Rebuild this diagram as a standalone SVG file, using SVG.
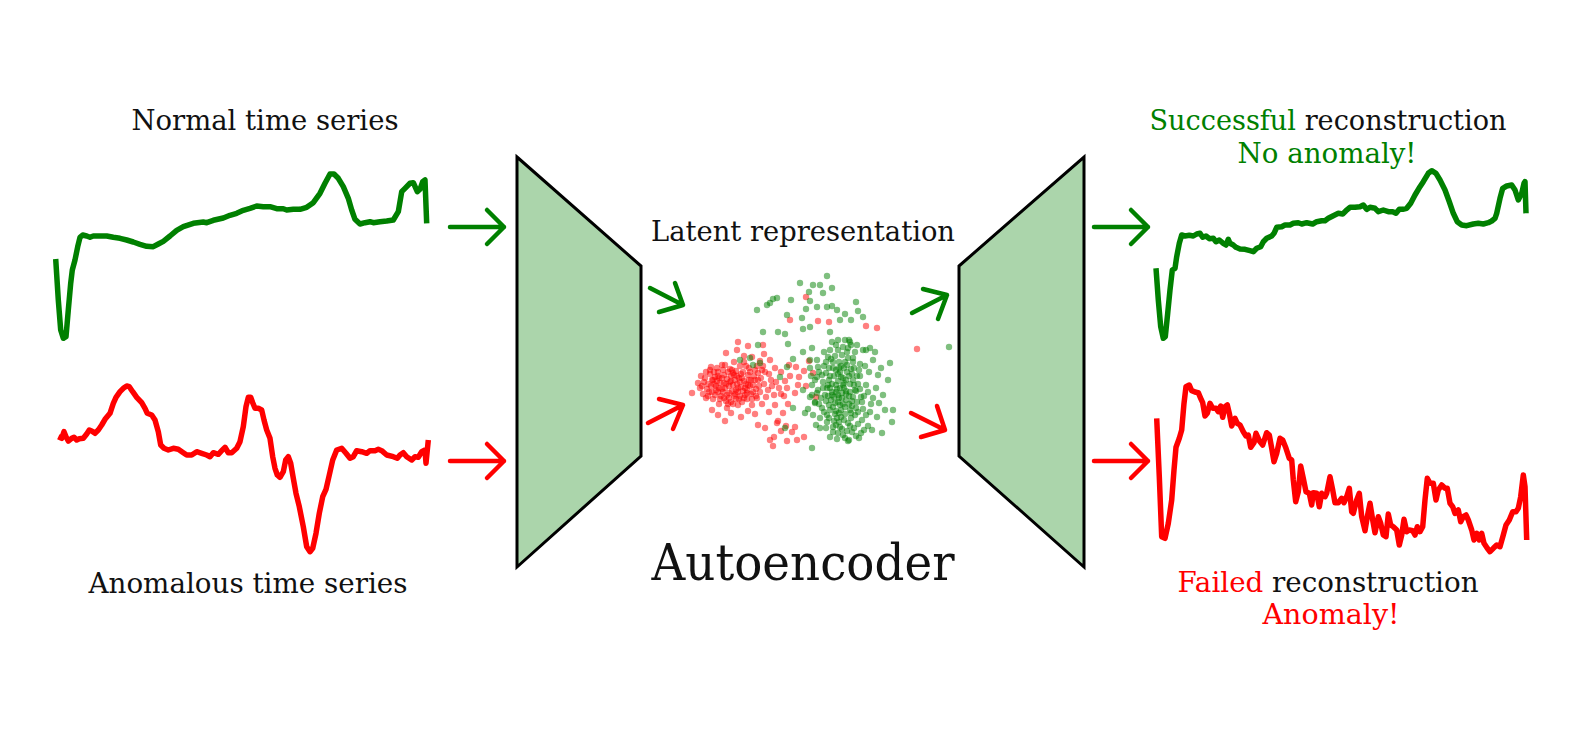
<svg xmlns="http://www.w3.org/2000/svg" width="1587" height="756" viewBox="0 0 1587 756">
<style>
.t{font-family:"DejaVu Serif","Liberation Serif",serif;fill:#111;}
.g{fill:#008000;}
.r{fill:#ff0000;}
.ts{fill:none;stroke-width:5.5;stroke-linejoin:round;stroke-linecap:butt;}
.tg{stroke:#008000;}
.tr{stroke:#ff0000;}
.trap{fill:#abd5ab;stroke:#000;stroke-width:3;stroke-linejoin:miter;}
.ar{fill:none;stroke-width:4.5;stroke-linecap:round;stroke-linejoin:round;}
.ag{stroke:#008000;}
.arr{stroke:#ff0000;}
.pr circle{fill:#ff0000;fill-opacity:0.5;}
.pg circle{fill:#008000;fill-opacity:0.5;}
circle{r:3.2px;}
</style>
<rect width="1587" height="756" fill="#fff"/>

<g id="normal-input">
<text class="t" x="265" y="130" font-size="28" text-anchor="middle" textLength="267" lengthAdjust="spacingAndGlyphs">Normal time series</text>
<polyline class="ts tg" points="55.7,259 58.3,300 60.7,330 63.3,338.3 66,336.7 68.3,310 70.7,283.3 72.3,270 75,260 77.7,246.7 80,237.3 82.7,235 86.7,236 90,237.3 93.3,236 100,236 106.7,236 113.3,237.3 120,238.3 126.7,240 133.3,242 140,244.3 146.7,246.3 153.3,246.7 158.3,244 163.3,241.3 170,236 176.7,230.3 183.3,226.7 193.3,223.3 203.3,222 206.7,222.7 213.3,220.3 223.3,218 230,215.3 236.7,213.3 243.3,210.3 250,208.3 256.7,206 263.3,206.7 270,206.7 276.7,208.7 283.3,208.7 286.7,210 293.3,209.3 300,209.3 306.7,207.3 313.3,202.7 320,193.3 325,183.3 330,174 334,174 338.3,178.3 343.3,186.7 348.3,198.3 351.7,210 355,219.3 360,224 365,222.7 370,221.7 373.3,222.7 380,221.7 386.7,221 393.3,220 398.3,211.7 401.7,191.7 405,188.3 410,183.3 413.3,182.7 417.3,191.7 420,189.3 422.7,181.7 425,180 426.7,223.3"/>
</g>

<g id="anomalous-input">
<text class="t" x="248" y="593" font-size="28" text-anchor="middle" textLength="319" lengthAdjust="spacingAndGlyphs">Anomalous time series</text>
<polyline class="ts tr" points="58.3,436.7 61.7,438.3 64,431.7 66,436.7 68.3,441 71.7,438.3 74,437.3 76.7,440 79.3,438.7 83.3,438.3 86.7,434 89.3,430 91.7,431 95,433.3 98.3,430 101.7,425 105,419.3 110,413.3 113.3,403.3 116,397.3 120,391.7 123.3,388.3 126.7,386 129.3,386.7 132.7,391.7 136.7,397.3 141.7,402.7 145,408.3 147.3,413.3 151.7,415 155,420 158.3,431.7 160.7,445 164,448.3 168.3,450 173.3,448.3 178.3,449.3 183.3,452.7 186.7,455 191.7,455 196.7,451.7 201.7,453.3 206.7,455 210,456.7 213.3,452.7 218.3,454.3 221.7,450.7 225,447.3 228.3,452.7 231.7,452.7 236.7,448.3 240,441.7 243.3,426.7 246,406.7 248.3,397.3 250.7,397.3 252.7,402.7 255,408.3 258.3,408.3 261.7,410 264,420 266.7,430 270,438.3 272.7,456.7 275,468.3 277.3,475 280,477.3 283.3,471.7 285.7,460 288.3,456.7 290.7,463.3 293.3,478.3 296,493.3 299.3,506.7 303.3,526.7 306.7,546.7 310,551.7 312.7,548.3 316,533.3 319.3,513.3 322.7,496.7 326,489.3 329.3,475 332.7,460 336.7,450 341.7,448.3 346,453.3 350,458.3 353.3,456.7 356.7,450.7 361.7,451.7 366.7,453.3 370,450.7 375,450.7 378.3,449.3 381.7,450.7 386.7,455 393.3,456.7 397.3,458.3 400,455 403.3,452.7 406.7,456.7 411.7,460 415,456.7 418.3,457.3 421.7,451.7 425,450 426,463.3 428.3,440"/>
</g>

<g id="encoder">
<polygon class="trap" points="517,157 641,266 641,456 517,567"/>
</g>

<g id="decoder">
<polygon class="trap" points="959,266 1084,157 1084,567 959,456"/>
</g>

<g id="latent">
<text class="t" x="803" y="241" font-size="28" text-anchor="middle" textLength="304" lengthAdjust="spacingAndGlyphs">Latent representation</text>
<g class="pr">
<circle cx="712" cy="380" r="3.2"/><circle cx="718" cy="372" r="3.2"/><circle cx="725" cy="388" r="3.2"/><circle cx="731" cy="376" r="3.2"/><circle cx="738" cy="392" r="3.2"/><circle cx="744" cy="381" r="3.2"/><circle cx="707" cy="389" r="3.2"/><circle cx="715" cy="395" r="3.2"/><circle cx="722" cy="365" r="3.2"/><circle cx="729" cy="398" r="3.2"/><circle cx="736" cy="371" r="3.2"/><circle cx="741" cy="387" r="3.2"/><circle cx="748" cy="375" r="3.2"/><circle cx="753" cy="392" r="3.2"/><circle cx="720" cy="383" r="3.2"/><circle cx="727" cy="379" r="3.2"/><circle cx="733" cy="385" r="3.2"/><circle cx="739" cy="378" r="3.2"/><circle cx="745" cy="395" r="3.2"/><circle cx="710" cy="374" r="3.2"/><circle cx="716" cy="386" r="3.2"/><circle cx="723" cy="392" r="3.2"/><circle cx="730" cy="369" r="3.2"/><circle cx="737" cy="384" r="3.2"/><circle cx="743" cy="372" r="3.2"/><circle cx="750" cy="386" r="3.2"/><circle cx="704" cy="382" r="3.2"/><circle cx="713" cy="399" r="3.2"/><circle cx="719" cy="378" r="3.2"/><circle cx="726" cy="401" r="3.2"/><circle cx="732" cy="391" r="3.2"/><circle cx="740" cy="366" r="3.2"/><circle cx="747" cy="399" r="3.2"/><circle cx="755" cy="380" r="3.2"/><circle cx="758" cy="373" r="3.2"/><circle cx="701" cy="376" r="3.2"/><circle cx="709" cy="392" r="3.2"/><circle cx="717" cy="368" r="3.2"/><circle cx="724" cy="375" r="3.2"/><circle cx="735" cy="394" r="3.2"/><circle cx="742" cy="402" r="3.2"/><circle cx="749" cy="368" r="3.2"/><circle cx="756" cy="389" r="3.2"/><circle cx="761" cy="378" r="3.2"/><circle cx="706" cy="398" r="3.2"/><circle cx="714" cy="384" r="3.2"/><circle cx="721" cy="396" r="3.2"/><circle cx="728" cy="372" r="3.2"/><circle cx="734" cy="362" r="3.2"/><circle cx="746" cy="384" r="3.2"/><circle cx="752" cy="399" r="3.2"/><circle cx="760" cy="392" r="3.2"/><circle cx="764" cy="384" r="3.2"/><circle cx="700" cy="388" r="3.2"/><circle cx="711" cy="367" r="3.2"/><circle cx="738" cy="405" r="3.2"/><circle cx="744" cy="362" r="3.2"/><circle cx="727" cy="408" r="3.2"/><circle cx="719" cy="404" r="3.2"/><circle cx="733" cy="404" r="3.2"/><circle cx="765" cy="372" r="3.2"/><circle cx="768" cy="390" r="3.2"/><circle cx="771" cy="380" r="3.2"/><circle cx="774" cy="395" r="3.2"/><circle cx="757" cy="366" r="3.2"/><circle cx="762" cy="404" r="3.2"/><circle cx="703" cy="394" r="3.2"/><circle cx="698" cy="383" r="3.2"/><circle cx="736" cy="399" r="3.2"/><circle cx="729" cy="386" r="3.2"/>
<circle cx="715" cy="377" r="3.2"/><circle cx="722" cy="389" r="3.2"/><circle cx="731" cy="381" r="3.2"/><circle cx="740" cy="396" r="3.2"/><circle cx="747" cy="390" r="3.2"/><circle cx="708" cy="384" r="3.2"/><circle cx="724" cy="383" r="3.2"/><circle cx="734" cy="375" r="3.2"/><circle cx="751" cy="380" r="3.2"/><circle cx="718" cy="392" r="3.2"/>
<circle cx="705" cy="378" r="3.2"/><circle cx="711" cy="386" r="3.2"/><circle cx="717" cy="381" r="3.2"/><circle cx="723" cy="370" r="3.2"/><circle cx="729" cy="393" r="3.2"/><circle cx="735" cy="380" r="3.2"/><circle cx="741" cy="374" r="3.2"/><circle cx="747" cy="393" r="3.2"/><circle cx="753" cy="385" r="3.2"/><circle cx="759" cy="386" r="3.2"/><circle cx="714" cy="372" r="3.2"/><circle cx="720" cy="399" r="3.2"/><circle cx="726" cy="384" r="3.2"/><circle cx="732" cy="370" r="3.2"/><circle cx="738" cy="388" r="3.2"/><circle cx="744" cy="398" r="3.2"/><circle cx="750" cy="372" r="3.2"/><circle cx="756" cy="396" r="3.2"/><circle cx="762" cy="370" r="3.2"/><circle cx="708" cy="396" r="3.2"/><circle cx="716" cy="390" r="3.2"/><circle cx="722" cy="378" r="3.2"/><circle cx="728" cy="404" r="3.2"/><circle cx="734" cy="396" r="3.2"/><circle cx="740" cy="382" r="3.2"/><circle cx="746" cy="366" r="3.2"/><circle cx="752" cy="405" r="3.2"/><circle cx="758" cy="380" r="3.2"/><circle cx="713" cy="380" r="3.2"/><circle cx="719" cy="388" r="3.2"/><circle cx="725" cy="365" r="3.2"/><circle cx="731" cy="402" r="3.2"/><circle cx="737" cy="376" r="3.2"/><circle cx="743" cy="391" r="3.2"/><circle cx="749" cy="380" r="3.2"/><circle cx="755" cy="370" r="3.2"/><circle cx="702" cy="386" r="3.2"/><circle cx="710" cy="370" r="3.2"/><circle cx="718" cy="376" r="3.2"/><circle cx="724" cy="398" r="3.2"/><circle cx="730" cy="382" r="3.2"/><circle cx="736" cy="390" r="3.2"/><circle cx="742" cy="378" r="3.2"/><circle cx="748" cy="385" r="3.2"/><circle cx="754" cy="376" r="3.2"/><circle cx="766" cy="397" r="3.2"/><circle cx="772" cy="386" r="3.2"/><circle cx="706" cy="372" r="3.2"/><circle cx="712" cy="392" r="3.2"/><circle cx="727" cy="395" r="3.2"/><circle cx="733" cy="373" r="3.2"/><circle cx="739" cy="399" r="3.2"/><circle cx="745" cy="388" r="3.2"/><circle cx="751" cy="394" r="3.2"/><circle cx="757" cy="398" r="3.2"/><circle cx="763" cy="366" r="3.2"/><circle cx="769" cy="374" r="3.2"/><circle cx="776" cy="382" r="3.2"/><circle cx="781" cy="394" r="3.2"/><circle cx="787" cy="388" r="3.2"/>
<circle cx="692" cy="393" r="3.2"/><circle cx="752" cy="357" r="3.2"/><circle cx="760" cy="361" r="3.2"/><circle cx="770" cy="360" r="3.2"/><circle cx="775" cy="368" r="3.2"/><circle cx="781" cy="372" r="3.2"/><circle cx="785" cy="381" r="3.2"/><circle cx="790" cy="376" r="3.2"/><circle cx="779" cy="388" r="3.2"/><circle cx="784" cy="396" r="3.2"/><circle cx="788" cy="404" r="3.2"/><circle cx="795" cy="393" r="3.2"/><circle cx="798" cy="385" r="3.2"/><circle cx="775" cy="405" r="3.2"/><circle cx="769" cy="412" r="3.2"/><circle cx="783" cy="413" r="3.2"/><circle cx="755" cy="414" r="3.2"/><circle cx="748" cy="411" r="3.2"/><circle cx="741" cy="417" r="3.2"/><circle cx="731" cy="413" r="3.2"/><circle cx="718" cy="415" r="3.2"/><circle cx="712" cy="410" r="3.2"/><circle cx="725" cy="421" r="3.2"/><circle cx="758" cy="425" r="3.2"/><circle cx="765" cy="428" r="3.2"/><circle cx="770" cy="440" r="3.2"/><circle cx="774" cy="437" r="3.2"/><circle cx="786" cy="426" r="3.2"/><circle cx="792" cy="432" r="3.2"/><circle cx="778" cy="421" r="3.2"/><circle cx="799" cy="377" r="3.2"/><circle cx="804" cy="371" r="3.2"/><circle cx="809" cy="361" r="3.2"/><circle cx="806" cy="386" r="3.2"/><circle cx="796" cy="367" r="3.2"/><circle cx="789" cy="365" r="3.2"/><circle cx="764" cy="354" r="3.2"/><circle cx="744" cy="356" r="3.2"/><circle cx="737" cy="350" r="3.2"/><circle cx="726" cy="353" r="3.2"/><circle cx="763" cy="345" r="3.2"/><circle cx="748" cy="346" r="3.2"/><circle cx="738" cy="342" r="3.2"/><circle cx="790" cy="320" r="3.2"/><circle cx="818" cy="321" r="3.2"/><circle cx="829" cy="322" r="3.2"/><circle cx="866" cy="326" r="3.2"/><circle cx="877" cy="328" r="3.2"/><circle cx="917" cy="349" r="3.2"/><circle cx="797" cy="440" r="3.2"/><circle cx="787" cy="441" r="3.2"/><circle cx="804" cy="437" r="3.2"/><circle cx="773" cy="446" r="3.2"/><circle cx="781" cy="431" r="3.2"/><circle cx="795" cy="427" r="3.2"/><circle cx="777" cy="423" r="3.2"/><circle cx="816" cy="397" r="3.2"/><circle cx="813" cy="373" r="3.2"/><circle cx="806" cy="297" r="3.2"/>
</g>
<g class="pg">
<circle cx="830" cy="350" r="3.2"/><circle cx="836" cy="345" r="3.2"/><circle cx="842" cy="355" r="3.2"/><circle cx="848" cy="348" r="3.2"/><circle cx="826" cy="362" r="3.2"/><circle cx="833" cy="368" r="3.2"/><circle cx="840" cy="372" r="3.2"/><circle cx="847" cy="365" r="3.2"/><circle cx="853" cy="358" r="3.2"/><circle cx="822" cy="375" r="3.2"/><circle cx="829" cy="380" r="3.2"/><circle cx="836" cy="385" r="3.2"/><circle cx="843" cy="378" r="3.2"/><circle cx="850" cy="384" r="3.2"/><circle cx="857" cy="376" r="3.2"/><circle cx="818" cy="390" r="3.2"/><circle cx="825" cy="395" r="3.2"/><circle cx="832" cy="392" r="3.2"/><circle cx="839" cy="398" r="3.2"/><circle cx="846" cy="391" r="3.2"/><circle cx="853" cy="397" r="3.2"/><circle cx="860" cy="389" r="3.2"/><circle cx="815" cy="402" r="3.2"/><circle cx="822" cy="408" r="3.2"/><circle cx="829" cy="405" r="3.2"/><circle cx="836" cy="411" r="3.2"/><circle cx="843" cy="404" r="3.2"/><circle cx="850" cy="410" r="3.2"/><circle cx="857" cy="402" r="3.2"/><circle cx="864" cy="396" r="3.2"/><circle cx="820" cy="418" r="3.2"/><circle cx="827" cy="415" r="3.2"/><circle cx="834" cy="421" r="3.2"/><circle cx="841" cy="417" r="3.2"/><circle cx="848" cy="423" r="3.2"/><circle cx="855" cy="415" r="3.2"/><circle cx="862" cy="420" r="3.2"/><circle cx="826" cy="428" r="3.2"/><circle cx="833" cy="432" r="3.2"/><circle cx="840" cy="427" r="3.2"/><circle cx="847" cy="431" r="3.2"/><circle cx="854" cy="428" r="3.2"/><circle cx="861" cy="433" r="3.2"/><circle cx="868" cy="426" r="3.2"/><circle cx="812" cy="385" r="3.2"/><circle cx="819" cy="372" r="3.2"/><circle cx="845" cy="340" r="3.2"/><circle cx="851" cy="345" r="3.2"/><circle cx="839" cy="362" r="3.2"/><circle cx="844" cy="388" r="3.2"/><circle cx="838" cy="395" r="3.2"/><circle cx="831" cy="400" r="3.2"/><circle cx="846" cy="400" r="3.2"/><circle cx="852" cy="406" r="3.2"/><circle cx="834" cy="376" r="3.2"/><circle cx="827" cy="388" r="3.2"/><circle cx="823" cy="382" r="3.2"/><circle cx="858" cy="384" r="3.2"/><circle cx="863" cy="409" r="3.2"/><circle cx="870" cy="412" r="3.2"/><circle cx="873" cy="398" r="3.2"/><circle cx="866" cy="385" r="3.2"/><circle cx="869" cy="372" r="3.2"/><circle cx="860" cy="364" r="3.2"/><circle cx="855" cy="352" r="3.2"/><circle cx="824" cy="352" r="3.2"/><circle cx="817" cy="360" r="3.2"/><circle cx="810" cy="368" r="3.2"/><circle cx="812" cy="395" r="3.2"/><circle cx="808" cy="409" r="3.2"/><circle cx="816" cy="425" r="3.2"/><circle cx="830" cy="437" r="3.2"/><circle cx="845" cy="438" r="3.2"/><circle cx="859" cy="438" r="3.2"/><circle cx="872" cy="430" r="3.2"/><circle cx="877" cy="417" r="3.2"/><circle cx="879" cy="403" r="3.2"/><circle cx="876" cy="388" r="3.2"/><circle cx="873" cy="360" r="3.2"/><circle cx="866" cy="350" r="3.2"/>
<circle cx="838" cy="381" r="3.2"/><circle cx="842" cy="393" r="3.2"/><circle cx="835" cy="403" r="3.2"/><circle cx="849" cy="376" r="3.2"/><circle cx="841" cy="410" r="3.2"/><circle cx="828" cy="396" r="3.2"/><circle cx="856" cy="391" r="3.2"/><circle cx="837" cy="418" r="3.2"/><circle cx="844" cy="368" r="3.2"/><circle cx="831" cy="359" r="3.2"/>
<circle cx="835" cy="356" r="3.2"/><circle cx="841" cy="366" r="3.2"/><circle cx="847" cy="372" r="3.2"/><circle cx="853" cy="380" r="3.2"/><circle cx="838" cy="374" r="3.2"/><circle cx="832" cy="384" r="3.2"/><circle cx="826" cy="373" r="3.2"/><circle cx="844" cy="383" r="3.2"/><circle cx="850" cy="392" r="3.2"/><circle cx="856" cy="408" r="3.2"/><circle cx="842" cy="398" r="3.2"/><circle cx="836" cy="392" r="3.2"/><circle cx="830" cy="410" r="3.2"/><circle cx="845" cy="414" r="3.2"/><circle cx="851" cy="418" r="3.2"/><circle cx="839" cy="422" r="3.2"/><circle cx="833" cy="427" r="3.2"/><circle cx="827" cy="422" r="3.2"/><circle cx="821" cy="398" r="3.2"/><circle cx="815" cy="380" r="3.2"/><circle cx="848" cy="358" r="3.2"/><circle cx="854" cy="368" r="3.2"/><circle cx="860" cy="376" r="3.2"/><circle cx="862" cy="402" r="3.2"/><circle cx="866" cy="415" r="3.2"/><circle cx="858" cy="424" r="3.2"/><circle cx="852" cy="432" r="3.2"/><circle cx="843" cy="435" r="3.2"/><circle cx="837" cy="439" r="3.2"/><circle cx="824" cy="412" r="3.2"/><circle cx="819" cy="404" r="3.2"/><circle cx="829" cy="368" r="3.2"/><circle cx="823" cy="388" r="3.2"/><circle cx="849" cy="404" r="3.2"/><circle cx="855" cy="390" r="3.2"/><circle cx="861" cy="397" r="3.2"/><circle cx="834" cy="397" r="3.2"/><circle cx="840" cy="405" r="3.2"/><circle cx="846" cy="380" r="3.2"/><circle cx="852" cy="374" r="3.2"/><circle cx="838" cy="350" r="3.2"/><circle cx="832" cy="342" r="3.2"/><circle cx="828" cy="357" r="3.2"/><circle cx="868" cy="392" r="3.2"/><circle cx="871" cy="404" r="3.2"/><circle cx="865" cy="366" r="3.2"/><circle cx="857" cy="345" r="3.2"/><circle cx="840" cy="388" r="3.2"/><circle cx="835" cy="414" r="3.2"/><circle cx="842" cy="429" r="3.2"/><circle cx="848" cy="441" r="3.2"/><circle cx="856" cy="436" r="3.2"/><circle cx="864" cy="430" r="3.2"/><circle cx="820" cy="428" r="3.2"/><circle cx="813" cy="415" r="3.2"/><circle cx="811" cy="376" r="3.2"/><circle cx="817" cy="393" r="3.2"/><circle cx="847" cy="352" r="3.2"/><circle cx="853" cy="362" r="3.2"/><circle cx="836" cy="370" r="3.2"/>
<circle cx="833" cy="362" r="3.2"/><circle cx="839" cy="368" r="3.2"/><circle cx="845" cy="362" r="3.2"/><circle cx="851" cy="369" r="3.2"/><circle cx="830" cy="376" r="3.2"/><circle cx="837" cy="389" r="3.2"/><circle cx="843" cy="385" r="3.2"/><circle cx="849" cy="396" r="3.2"/><circle cx="833" cy="407" r="3.2"/><circle cx="839" cy="413" r="3.2"/><circle cx="845" cy="407" r="3.2"/><circle cx="851" cy="413" r="3.2"/><circle cx="829" cy="418" r="3.2"/><circle cx="836" cy="425" r="3.2"/><circle cx="844" cy="420" r="3.2"/><circle cx="850" cy="426" r="3.2"/><circle cx="826" cy="401" r="3.2"/><circle cx="858" cy="412" r="3.2"/><circle cx="854" cy="385" r="3.2"/><circle cx="828" cy="385" r="3.2"/><circle cx="841" cy="377" r="3.2"/><circle cx="846" cy="394" r="3.2"/><circle cx="832" cy="395" r="3.2"/><circle cx="838" cy="402" r="3.2"/><circle cx="852" cy="401" r="3.2"/><circle cx="824" cy="366" r="3.2"/><circle cx="859" cy="370" r="3.2"/><circle cx="843" cy="347" r="3.2"/><circle cx="849" cy="340" r="3.2"/><circle cx="838" cy="433" r="3.2"/>
<circle cx="827" cy="276" r="3.2"/><circle cx="800" cy="283" r="3.2"/><circle cx="813" cy="285" r="3.2"/><circle cx="820" cy="285" r="3.2"/><circle cx="832" cy="288" r="3.2"/><circle cx="823" cy="293" r="3.2"/><circle cx="809" cy="292" r="3.2"/><circle cx="777" cy="298" r="3.2"/><circle cx="773" cy="299" r="3.2"/><circle cx="770" cy="303" r="3.2"/><circle cx="767" cy="305" r="3.2"/><circle cx="757" cy="310" r="3.2"/><circle cx="791" cy="300" r="3.2"/><circle cx="810" cy="301" r="3.2"/><circle cx="817" cy="307" r="3.2"/><circle cx="827" cy="307" r="3.2"/><circle cx="832" cy="306" r="3.2"/><circle cx="837" cy="310" r="3.2"/><circle cx="845" cy="314" r="3.2"/><circle cx="856" cy="302" r="3.2"/><circle cx="858" cy="311" r="3.2"/><circle cx="863" cy="317" r="3.2"/><circle cx="851" cy="320" r="3.2"/><circle cx="840" cy="320" r="3.2"/><circle cx="806" cy="309" r="3.2"/><circle cx="802" cy="318" r="3.2"/><circle cx="787" cy="315" r="3.2"/><circle cx="810" cy="327" r="3.2"/><circle cx="803" cy="329" r="3.2"/><circle cx="830" cy="332" r="3.2"/><circle cx="838" cy="340" r="3.2"/><circle cx="850" cy="342" r="3.2"/><circle cx="763" cy="332" r="3.2"/><circle cx="778" cy="332" r="3.2"/><circle cx="785" cy="334" r="3.2"/><circle cx="788" cy="344" r="3.2"/><circle cx="758" cy="345" r="3.2"/><circle cx="812" cy="348" r="3.2"/><circle cx="803" cy="352" r="3.2"/><circle cx="793" cy="359" r="3.2"/><circle cx="810" cy="360" r="3.2"/><circle cx="787" cy="367" r="3.2"/><circle cx="780" cy="377" r="3.2"/><circle cx="750" cy="358" r="3.2"/><circle cx="740" cy="360" r="3.2"/><circle cx="753" cy="365" r="3.2"/><circle cx="760" cy="363" r="3.2"/><circle cx="803" cy="390" r="3.2"/><circle cx="810" cy="397" r="3.2"/><circle cx="815" cy="403" r="3.2"/><circle cx="793" cy="408" r="3.2"/><circle cx="805" cy="413" r="3.2"/><circle cx="785" cy="428" r="3.2"/><circle cx="812" cy="448" r="3.2"/><circle cx="849" cy="440" r="3.2"/><circle cx="882" cy="433" r="3.2"/><circle cx="892" cy="422" r="3.2"/><circle cx="893" cy="410" r="3.2"/><circle cx="890" cy="363" r="3.2"/><circle cx="888" cy="380" r="3.2"/><circle cx="878" cy="375" r="3.2"/><circle cx="875" cy="352" r="3.2"/><circle cx="870" cy="348" r="3.2"/><circle cx="863" cy="350" r="3.2"/><circle cx="949" cy="347" r="3.2"/><circle cx="830" cy="388" r="3.2"/><circle cx="817" cy="377" r="3.2"/><circle cx="818" cy="367" r="3.2"/><circle cx="883" cy="395" r="3.2"/><circle cx="885" cy="410" r="3.2"/><circle cx="881" cy="368" r="3.2"/>
</g>
</g>

<g id="successful-output">
<text class="t" x="1328" y="130" font-size="28" text-anchor="middle" textLength="357" lengthAdjust="spacingAndGlyphs"><tspan class="g">Successful</tspan> reconstruction</text>
<text class="t g" x="1327" y="163" font-size="28" text-anchor="middle" textLength="179" lengthAdjust="spacingAndGlyphs">No anomaly!</text>
<polyline class="ts tg" points="1156,268.3 1158.3,300 1160.7,326.7 1163.3,338.3 1165.3,336.7 1167.7,313.3 1170,290 1172.3,270 1175,268.3 1176.7,256.7 1179.3,243.3 1181.7,235 1185,236 1189.3,235.3 1193.3,236 1196.7,234 1200,233.3 1202.7,237.3 1206,236 1209.3,238.7 1213.3,238.3 1216,241.7 1219.3,240 1223.3,243.3 1226,245 1228.3,239.3 1230,243.3 1233.3,245 1236,247.3 1240,249 1245,249.3 1250,250.7 1253.3,251.7 1256.7,248.3 1260.7,246.7 1263.3,241.7 1266.7,238.3 1271.7,236 1274,233.3 1276.7,227.3 1281.7,226.7 1285,225 1290,225 1293.3,223.3 1298.3,222.7 1301.7,224 1306.7,222.7 1312.7,224 1316.7,221.7 1321.7,220.7 1325,220.7 1328.3,218.3 1333.3,215.7 1338.3,213.3 1342.7,214 1346,210.7 1350,207.3 1355,207.3 1360,206.7 1363.3,205 1366.7,209.3 1370,207.3 1375,208.3 1378.3,211.7 1383.3,210 1388.3,211.7 1392.7,211.7 1396,213.3 1399.3,209.3 1402.7,209.3 1406.7,208.3 1410.7,203.3 1415,195 1420,186.7 1423.3,181.7 1428.3,173.3 1431.7,170.7 1436,173.3 1440,180 1445,190 1449.3,201.7 1453.3,213.3 1457.3,221.7 1461.7,225 1466.7,225.7 1473.3,224 1478.3,223.3 1483.3,224 1488.3,222.7 1491.7,221 1495,218.3 1496.7,213.3 1500,198.3 1502.7,188.3 1506.7,186 1511.7,185 1515,190 1518.3,200 1521.7,193.3 1524,183.3 1525,181.7 1526,213.3"/>
</g>

<g id="failed-output">
<text class="t" x="1328" y="592" font-size="28" text-anchor="middle" textLength="301" lengthAdjust="spacingAndGlyphs"><tspan class="r">Failed</tspan> reconstruction</text>
<text class="t r" x="1331" y="624" font-size="28" text-anchor="middle" textLength="137" lengthAdjust="spacingAndGlyphs">Anomaly!</text>
<polyline class="ts tr" points="1156.7,418.3 1159.3,476.7 1161.7,536.7 1165,538.3 1168.3,523.3 1171.7,500 1174,470 1176,447.3 1179.3,438.3 1181.7,430 1184,403.3 1186,386.7 1189.3,385 1191.7,390.7 1196,392.3 1198.3,392.7 1200.7,398.3 1202.7,402.7 1205,416 1207.3,413.3 1210,403.3 1212.7,408.3 1216,408.3 1218.3,411.7 1220.7,406 1222.7,417.3 1225,406.7 1227.3,405 1229.3,413.3 1231.7,426 1235,418.3 1237.3,423.3 1240,425 1243.3,431.7 1246,436 1248.3,435 1250.7,447.3 1254,442.7 1256,433.3 1259.3,440.7 1262.7,445 1266.7,432.7 1269.3,435 1271.7,448.3 1274,461.7 1276.7,453.3 1280,438.3 1282.7,440 1286,448.3 1289.3,458.3 1291.7,460 1293.3,480 1295.7,501.7 1298.3,491.7 1300.7,466 1303.3,478.3 1306,491.7 1309.3,493.3 1311.7,505 1313.3,492.7 1316.7,493.3 1319.3,506.7 1321.7,493.3 1325,496.7 1326.7,493.3 1330,476.7 1332.7,490 1335,502.7 1338.3,502.7 1341.7,498.3 1344,502.7 1346.7,496.7 1349.3,488.3 1351.7,511.7 1353.3,513.3 1356.7,500 1359.3,493.3 1361.7,516.7 1365,530.7 1367.3,516.7 1370,503.3 1372.7,520 1375,532.7 1378.3,516.7 1380.7,523.3 1383.3,535 1386,536.7 1388.3,514 1390.7,525 1393.3,526.7 1396.7,530 1399.3,545 1401.7,535 1404,519.3 1406.7,531.7 1409.3,530 1412.7,530.7 1415,535 1417.3,526.7 1420,531.7 1422.7,526.7 1425,500 1427.3,478.3 1430,483.3 1433.3,483.3 1436,500 1438.3,490 1441.7,485 1445,488.3 1447.3,488.3 1450,503.3 1452.7,506.7 1455,513.3 1458.3,510 1460.7,521.7 1463.3,516.7 1466,515 1468.3,520 1471.7,530 1474,540 1476.7,533.3 1479.3,540 1481.7,533.3 1484,543.3 1487.3,548.3 1490,551.7 1493.3,548.3 1496.7,545 1500,546.7 1503.3,535 1506,525 1509.3,520 1512.7,511.7 1516,511.7 1518.3,508.3 1520.7,496.7 1523.3,475 1525,486.7 1526.7,540"/>
</g>

<g id="autoencoder-label">
<text class="t" x="803" y="580" font-size="51" text-anchor="middle" textLength="303" lengthAdjust="spacingAndGlyphs">Autoencoder</text>
</g>

<g id="connectors">
<path class="ar ag" d="M450,227 L504,227 M487,210 L504,227 L487,244"/>
<path class="ar arr" d="M450,461 L504,461 M487,444 L504,461 L487,478"/>
<path class="ar ag" d="M650,288 L683,305 M675,283 L683,305 L659,312"/>
<path class="ar arr" d="M648,423 L683,405 M659,399 L683,405 L673,429"/>
<path class="ar ag" d="M912,313 L947,295 M923,289 L947,295 L938,319"/>
<path class="ar arr" d="M911,413 L945,430 M937,406 L945,430 L921,437"/>
<path class="ar ag" d="M1094,227 L1148,227 M1131,210 L1148,227 L1131,244"/>
<path class="ar arr" d="M1094,461 L1148,461 M1131,444 L1148,461 L1131,478"/>
</g>
</svg>
